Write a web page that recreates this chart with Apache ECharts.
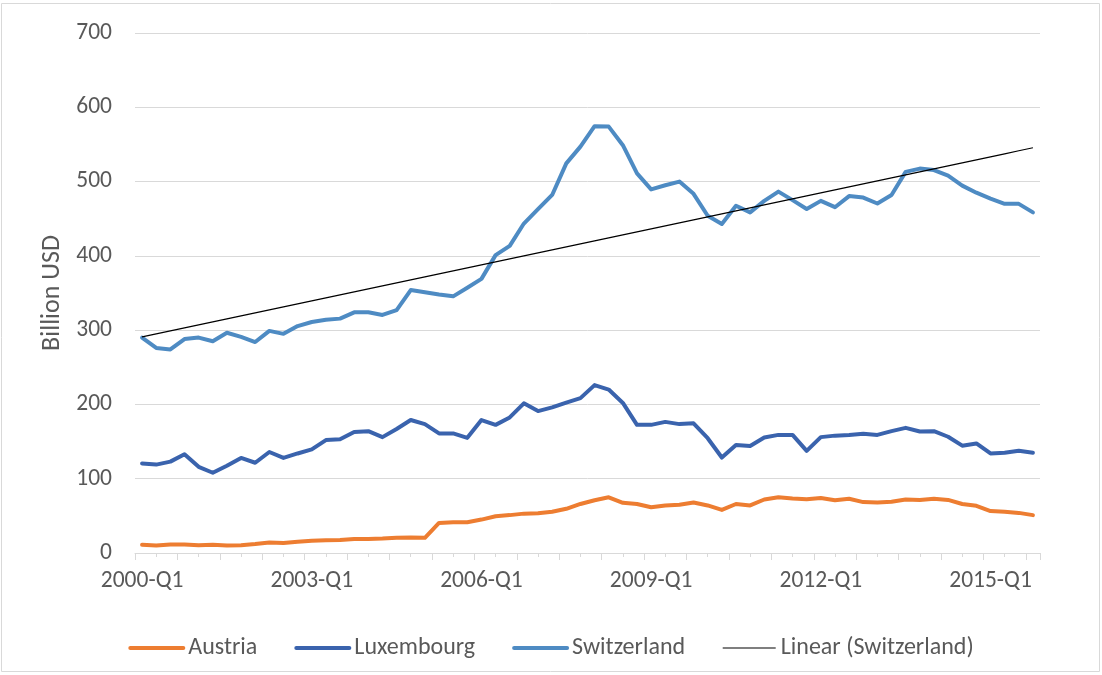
<!DOCTYPE html>
<html>
<head>
<meta charset="utf-8">
<title>Billion USD</title>
<script src="https://cdn.jsdelivr.net/npm/echarts@6/dist/echarts.min.js"></script>
<style>
  html, body { margin: 0; padding: 0; background: #fff; }
  #chart { width: 1102px; height: 675px; }
</style>
</head>
<body>
<div id="chart"></div>
<script>
// quarters 2000-Q1 .. 2015-Q4
var years = [2000, 2001, 2002, 2003, 2004, 2005, 2006, 2007, 2008, 2009, 2010, 2011, 2012, 2013, 2014, 2015];
var quarters = ["Q1", "Q2", "Q3", "Q4"];
var categories = [];
years.forEach(function (y) {
  quarters.forEach(function (q) {
    categories.push(y + "-" + q);
  });
});

var austria = [
  11, 10, 11.5, 11.5, 10.5, 11, 10, 10.5, 12, 14, 13.5, 15, 16.5, 17, 17.5, 19,
  19, 19.5, 20.5, 21, 20.5, 40.5, 41.5, 41.5, 45, 49.5, 51, 53, 53.5, 55.5, 59.5, 66,
  71, 75, 67.5, 66, 61.5, 64, 65, 68, 64, 58, 66, 64, 72, 75, 73.5, 72.5,
  74, 71, 73, 68.5, 68, 69, 72, 71.5, 73, 71.5, 66, 63.5, 56.5, 55.5, 54, 51
];
var luxembourg = [
  120.5, 119, 123, 133, 116, 108, 117.5, 128, 121.5, 136, 128, 134, 139.5, 152, 153, 163,
  164, 156, 167, 179, 173.5, 161, 161, 155, 179, 172.5, 182.5, 201.5, 191, 196, 202.5, 208.5,
  226, 220, 202, 172.5, 172.5, 176.5, 173.5, 174.5, 154.5, 128.5, 145.5, 144, 155.5, 159, 159, 137.5,
  156, 158, 159, 160.5, 159, 164, 168.5, 163.5, 164, 156.5, 144.5, 147.5, 134, 135, 137.5, 135
];
var switzerland = [
  290, 276, 274, 288, 290, 285, 296.5, 291, 284, 299, 295, 305.5, 311, 314, 315.5, 324,
  324, 320.5, 327, 354, 351, 348, 345.5, 357, 369, 401, 413.5, 443.5, 463, 482, 524.5, 547,
  574.5, 574, 549, 511, 489.5, 495, 500, 483.5, 454, 443, 467.5, 458.5, 474, 486.5, 475, 463,
  474, 465.5, 480.5, 478.5, 470.5, 482, 513, 517.5, 515.5, 508, 494.5, 485, 477, 470, 470, 458.5
];

// Linear (Switzerland): least-squares trendline, like Excel's
function linearTrend(values) {
  var n = values.length, sx = 0, sy = 0, sxx = 0, sxy = 0;
  values.forEach(function (v, i) {
    sx += i; sy += v; sxx += i * i; sxy += i * v;
  });
  var slope = (n * sxy - sx * sy) / (n * sxx - sx * sx);
  var icpt = (sy - slope * sx) / n;
  return values.map(function (v, i) {
    return +(icpt + slope * i).toFixed(2);
  });
}
var switzerlandTrend = linearTrend(switzerland);

// short tick marks half way between the long ones (long = every 3 quarters)
var shortTicks = [];
for (var t = 1.5; t < categories.length; t += 3) {
  shortTicks.push(t);
}

var FONT = "Carlito, Calibri, Lato, sans-serif";
var GRID_COLOR = "#d9d9d9";
var TEXT_COLOR = "#595959";
var PLOT_H = 520;
var LINE_W = 4;

var chart = echarts.init(document.getElementById("chart"));

var lineSeries = function (name, data, color) {
  return {
    name: name,
    type: "line",
    data: data,
    symbol: "none",
    smooth: false,
    xAxisIndex: 0,
    lineStyle: { color: color, width: LINE_W, cap: "round", join: "round" },
    itemStyle: { color: color },
    emphasis: { disabled: true },
  };
};

chart.setOption({
  animation: false,
  textStyle: { fontFamily: FONT },
  graphic: [
    {
      type: "rect",
      shape: { x: 1.5, y: 3.5, width: 1098, height: 668 },
      style: { fill: "none", stroke: GRID_COLOR, lineWidth: 1 },
      silent: true,
      z: -10,
    },
  ],
  grid: {
    left: 135,
    top: 33,
    width: 905,
    height: PLOT_H,
  },
  xAxis: [
    {
      type: "category",
      data: categories,
      boundaryGap: true,
      axisLine: { show: true, lineStyle: { color: GRID_COLOR, width: 1 } },
      axisTick: {
        show: true,
        interval: 2,
        length: 7,
        lineStyle: { color: GRID_COLOR, width: 1 },
      },
      axisLabel: {
        interval: 11,
        color: TEXT_COLOR,
        fontSize: 23.5,
        fontFamily: FONT,
        margin: 16,
      },
      splitLine: { show: false },
    },
    {
      // only carries the short ticks, moved down onto the bottom axis
      type: "value",
      position: "top",
      offset: -PLOT_H,
      min: 0,
      max: categories.length,
      axisLine: { show: false },
      axisLabel: { show: false },
      splitLine: { show: false },
      axisTick: {
        show: true,
        inside: true,
        length: 4,
        customValues: shortTicks,
        lineStyle: { color: GRID_COLOR, width: 1 },
      },
    },
  ],
  yAxis: {
    type: "value",
    min: 0,
    max: 700,
    interval: 100,
    name: "Billion USD",
    nameLocation: "middle",
    nameGap: 68,
    nameTextStyle: { color: TEXT_COLOR, fontSize: 26, fontFamily: FONT },
    axisLine: { show: false },
    axisTick: { show: false },
    axisLabel: {
      color: TEXT_COLOR,
      fontSize: 23.5,
      fontFamily: FONT,
      margin: 23,
    },
    splitLine: { lineStyle: { color: GRID_COLOR, width: 1 } },
  },
  legend: {
    left: "center",
    top: 631,
    itemWidth: 53,
    itemHeight: 4,
    itemGap: 37,
    itemStyle: { opacity: 0 },
    textStyle: { color: TEXT_COLOR, fontSize: 24, fontFamily: FONT },
    data: [
      { name: "Austria", lineStyle: { width: LINE_W } },
      { name: "Luxembourg", lineStyle: { width: LINE_W } },
      { name: "Switzerland", lineStyle: { width: LINE_W } },
      { name: "Linear (Switzerland)", lineStyle: { width: 1.2 } },
    ],
  },
  series: [
    lineSeries("Austria", austria, "#ed7d31"),
    lineSeries("Luxembourg", luxembourg, "#3a63ad"),
    lineSeries("Switzerland", switzerland, "#4e8bc3"),
    {
      name: "Linear (Switzerland)",
      type: "line",
      data: switzerlandTrend,
      symbol: "none",
      xAxisIndex: 0,
      lineStyle: { color: "#000000", width: 1.2 },
      itemStyle: { color: "#000000" },
      emphasis: { disabled: true },
      z: 3,
    },
  ],
});
</script>
</body>
</html>
